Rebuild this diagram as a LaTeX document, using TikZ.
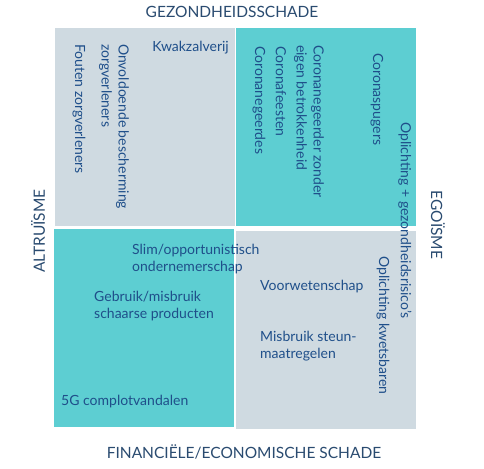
\documentclass[tikz,border=0pt]{standalone}
\usepackage{fontspec}
\setmainfont{Lato}
\usepackage{xcolor}
\usetikzlibrary{positioning}
\definecolor{grijs}{HTML}{CFDAE1}
\definecolor{turkoois}{HTML}{5DCED2}
\definecolor{inkt}{HTML}{1F4F8A}
\definecolor{kop}{HTML}{2A4B70}

\begin{document}
\begin{tikzpicture}[x=1pt,y=-1pt,
  font=\fontsize{14}{17}\selectfont,
  vak/.style={minimum width=180pt,minimum height=198pt,anchor=north west,inner sep=0pt,draw=none},
  lbl/.style={text=inkt,inner sep=0pt,align=left},
  vert/.style={lbl,rotate=-90,anchor=west},
  horz/.style={lbl,anchor=north west},
  as/.style={text=kop,inner sep=0pt,font=\fontsize{15.5}{18}\selectfont}
]
\useasboundingbox[fill=white] (0,0) rectangle (484,468);
% kwadranten
\node[vak,fill=grijs] (tl) at (55,28) {};
\node[vak,fill=turkoois] (tr) at (236,28) {};
\node[vak,fill=turkoois] (bl) at (54,229) {};
\node[vak,fill=grijs] (br) at (236,231) {};
% assen
\node[as] (gez) at (232,12) {GEZONDHEIDSSCHADE};
\node[as] (fin) at (244,452) {FINANCIËLE/ECONOMISCHE SCHADE};
\node[as,rotate=90] (alt) at (38,231) {ALTRUÏSME};
\node[as,rotate=-90] (ego) at (438,225) {EGOÏSME};
% linksboven
\node[vert] (fouten) at (79,44) {Fouten zorgverleners};
\node[vert] (onvold) at (114,44) {Onvoldoende bescherming\\zorgverleners};
\node[lbl,anchor=north east] (kwak) at (229,41) {Kwakzalverij};
% rechtsboven
\node[vert] (negeer) at (259,46) {Coronanegeerdes};
\node[vert] (feest) at (281,46) {Coronafeesten};
\node[vert] (zonder) at (309,45) {Coronanegeerder zonder\\eigen betrokkenheid};
\node[vert] (spug) at (377,53) {Coronaspugers};
\node[vert] (oplgez) at (405,122) {Oplichting + gezondheidsrisico's};
% linksonder
\node[horz] (slim) at (132,244) {Slim/opportunistisch\\ondernemerschap};
\node[horz] (gebruik) at (94,291) {Gebruik/misbruik\\schaarse producten};
\node[horz] (vijfg) at (61,395) {5G complotvandalen};
% rechtsonder
\node[horz] (voor) at (260,280) {Voorwetenschap};
\node[horz] (steun) at (260,331) {Misbruik steun-\\maatregelen};
\node[vert] (oplkw) at (383,256) {Oplichting kwetsbaren};
\end{tikzpicture}
\end{document}
